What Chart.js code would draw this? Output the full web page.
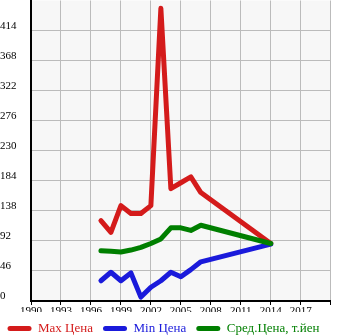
<!DOCTYPE html>
<html>
<head>
<meta charset="utf-8">
<script src="https://cdn.jsdelivr.net/npm/chart.js@4"></script>
<style>
  html, body { margin: 0; padding: 0; background: #fff; }
  #wrap { width: 345px; height: 335px; }
</style>
</head>
<body>
<div id="wrap"><canvas id="chart"></canvas></div>
<script>
const years = [1997, 1998, 1999, 2000, 2001, 2002, 2003, 2004, 2005, 2006, 2007, 2014];
const maxPrice = [123, 105, 146, 134, 134, 146, 448, 172, 181, 190, 166, 88];
const minPrice = [31, 44, 31, 43, 6, 21, 31, 44, 37, 48, 60, 87];
const avgPrice = [77, 76, 75, 78, 82, 88, 95, 112, 112, 108, 116, 88];
const seriesNames = ['Max Цена', 'Min Цена', 'Сред.Цена, т.йен'];
const seriesColors = ['#d41b1b', '#1a1adb', '#007f00'];

const toPoints = values => values.map((v, i) => ({ x: years[i], y: v }));

const plotBackground = {
  id: 'plotBackground',
  beforeDraw(chart) {
    const { ctx, chartArea: a } = chart;
    ctx.save();
    ctx.fillStyle = '#f7f7f7';
    ctx.fillRect(a.left, a.top, a.right - a.left, a.bottom - a.top);
    ctx.restore();
  },
};

// pin the plot top to the canvas edge and move the legend a bit left, like the original
const layoutFix = {
  id: 'layoutFix',
  afterLayout(chart) {
    const area = chart.chartArea;
    area.top = 0.5;
    area.height = area.bottom - area.top;
    ['y', 'yRight'].forEach(id => {
      const s = chart.scales[id];
      s.top = 0.5;
      s.height = s.bottom - s.top;
      s.configure();
    });
    chart.legend.left = -9;
    chart.legend.right = chart.width - 9;
  },
};

const lineStyle = (i, order) => ({
  label: seriesNames[i],
  borderColor: seriesColors[i],
  backgroundColor: seriesColors[i],
  borderWidth: 5,
  pointRadius: 0,
  tension: 0,
  borderJoinStyle: 'round',
  borderCapStyle: 'round',
  order: order,
  yAxisID: 'y',
});

new Chart(document.getElementById('chart'), {
  type: 'line',
  data: {
    datasets: [
      { ...lineStyle(0, 3), data: toPoints(maxPrice) },
      { ...lineStyle(1, 2), data: toPoints(minPrice) },
      { ...lineStyle(2, 1), data: toPoints(avgPrice) },
    ],
  },
  options: {
    responsive: true,
    maintainAspectRatio: false,
    animation: false,
    layout: { autoPadding: false, padding: { left: 0, right: 0, top: 0, bottom: -10 } },
    plugins: {
      tooltip: { enabled: false },
      legend: {
        position: 'bottom',
        labels: {
          boxWidth: 24,
          boxHeight: 5,
          useBorderRadius: true,
          borderRadius: 2.5,
          padding: 10,
          font: { family: 'Liberation Serif', size: 13 },
          generateLabels: chart => chart.data.datasets.map((ds, i) => ({
            text: ds.label,
            fillStyle: ds.borderColor,
            strokeStyle: ds.borderColor,
            fontColor: ds.borderColor,
            lineWidth: 0,
            borderRadius: 2.5,
            datasetIndex: i,
            hidden: false,
          })),
        },
      },
    },
    scales: {
      x: {
        type: 'linear',
        min: 1990,
        max: 2020,
        afterFit: scale => { scale.height = 11; },
        ticks: {
          stepSize: 3,
          padding: 0,
          maxRotation: 0,
          color: '#000',
          font: { family: 'Liberation Serif', size: 11 },
          callback: v => (v === 2020 ? '' : String(v)),
        },
        grid: { color: '#bbbbbb', lineWidth: 1, tickColor: '#000', tickLength: 4 },
        border: { color: '#000', width: 2 },
      },
      y: {
        min: 0,
        max: 460,
        afterFit: scale => { scale.width = 31; },
        ticks: {
          stepSize: 46,
          padding: 0,
          crossAlign: 'far',
          labelOffset: -4.5,
          color: '#000',
          font: { family: 'Liberation Serif', size: 11 },
          callback: v => (v === 460 ? null : String(v)),
        },
        grid: { color: '#bbbbbb', lineWidth: 1, drawTicks: false },
        border: { color: '#000', width: 2 },
      },
      // empty axis that only keeps the right margin
      yRight: {
        position: 'right',
        afterFit: scale => { scale.width = 14.3; },
        ticks: { display: false },
        grid: { display: false, drawOnChartArea: false },
        border: { display: false },
      },
    },
  },
  plugins: [plotBackground, layoutFix],
});
</script>
</body>
</html>
